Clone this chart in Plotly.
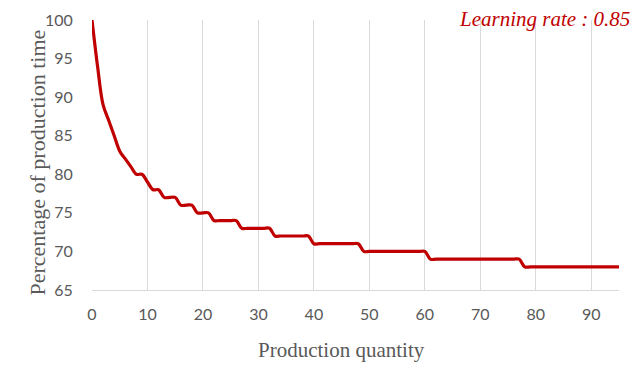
import plotly.graph_objects as go

quantity = list(range(0, 96))
percent = [
    100, 94, 89, 87, 85, 83, 82, 81, 80, 80,   # 0-9
    79, 78, 78, 77, 77, 77, 76, 76, 76, 75,    # 10-19
    75, 75, 74, 74, 74, 74, 74, 73, 73, 73,    # 20-29
    73, 73, 73, 72, 72, 72, 72, 72, 72, 72,    # 30-39
    71, 71, 71, 71, 71, 71, 71, 71, 71, 70,    # 40-49
    70, 70, 70, 70, 70, 70, 70, 70, 70, 70,    # 50-59
    70, 69, 69, 69, 69, 69, 69, 69, 69, 69,    # 60-69
    69, 69, 69, 69, 69, 69, 69, 69, 68, 68,    # 70-79
    68, 68, 68, 68, 68, 68, 68, 68, 68, 68,    # 80-89
    68, 68, 68, 68, 68, 68,                    # 90-95
]
x_ticks = [0, 10, 20, 30, 40, 50, 60, 70, 80, 90]
y_ticks = [65, 70, 75, 80, 85, 90, 95, 100]

fig = go.Figure()
fig.add_trace(go.Scatter(
    x=quantity, y=percent, mode="lines",
    line=dict(color="#c00000", width=3.2, shape="spline", smoothing=1.0),
    hoverinfo="skip", showlegend=False,
))

grey = "#595959"
serif = "Liberation Serif"
fig.update_layout(
    width=635, height=363,
    margin=dict(l=83.5, r=24, t=11.5, b=81),
    paper_bgcolor="white", plot_bgcolor="white",
    showlegend=False,
    xaxis=dict(
        range=[0, 95], tickvals=x_ticks, automargin=False,
        ticks="outside", ticklen=10, tickcolor="rgba(0,0,0,0)",
        showgrid=True, gridcolor="#d9d9d9", gridwidth=1,
        showline=True, linecolor="#d9d9d9", linewidth=1,
        zeroline=False,
        tickfont=dict(family="Lato", size=16, color=grey),
    ),
    yaxis=dict(
        range=[65, 100], tickvals=y_ticks, automargin=False,
        ticks="outside", ticklen=15, tickcolor="rgba(0,0,0,0)",
        showgrid=False, showline=False, zeroline=False,
        tickfont=dict(family="Lato", size=16, color=grey),
    ),
    annotations=[
        dict(text="Learning rate : 0.85", xref="paper", yref="paper",
             x=1.0246, y=1.0055, xanchor="right", yanchor="middle", showarrow=False,
             font=dict(family=serif, size=21, color="#c00000", style="italic")),
        dict(text="Production quantity", xref="paper", yref="paper",
             x=0.474, y=-0.222, xanchor="center", yanchor="middle", showarrow=False,
             font=dict(family=serif, size=21, color=grey)),
        dict(text="Percentage of production time", xref="paper", yref="paper",
             x=-0.104, y=0.473, xanchor="center", yanchor="middle", showarrow=False,
             textangle=-90,
             font=dict(family=serif, size=22, color=grey)),
    ],
)

fig.write_html("out.html")
